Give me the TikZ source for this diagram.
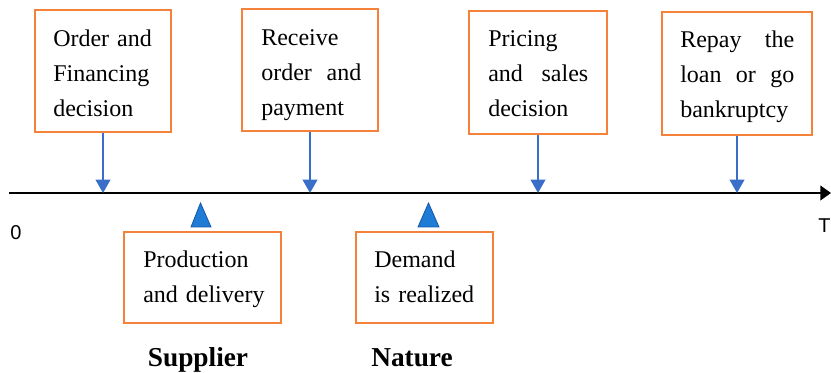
\documentclass[tikz,border=0pt]{standalone}
\usepackage{fontspec}
\setmainfont{Liberation Serif}
\newfontfamily\axisfont{Liberation Sans}
\usetikzlibrary{arrows.meta}
\definecolor{boxorange}{HTML}{F5823A}
\definecolor{arrowblue}{HTML}{3A6FC9}
\definecolor{trifill}{HTML}{1E7BD6}
\definecolor{triedge}{HTML}{1457A8}
\tikzset{
  evbox/.style={draw=boxorange, line width=1.5pt, inner sep=0pt, rectangle},
  evtext/.style={anchor=base west, inner sep=0pt, align=left, font=\fontsize{18}{26.25}\selectfont},
  downarrow/.style={draw=arrowblue, line width=1.4pt, -{Triangle[length=10pt,width=11pt]}, arrowblue},
  uptri/.style={fill=trifill, draw=triedge, line width=0.6pt, line join=miter},
  agent/.style={inner sep=0pt, anchor=base, font=\fontsize{20.5}{24}\selectfont\bfseries},
  axislabel/.style={inner sep=0pt, font=\axisfont\fontsize{15}{18}\selectfont}
}
\begin{document}
\begin{tikzpicture}[x=0.75pt,y=-0.75pt]
\useasboundingbox (0,0) rectangle (831,373);
% axis
\coordinate (axL) at (9,193);
\coordinate (axR) at (831,193);
\draw[line width=1.5pt, -{Triangle[length=8pt,width=11pt]}] (axL) -- (axR);
\node[axislabel] (zero) at (16,232.5) {0};
\node[axislabel] (tend) at (824.5,226) {T};
% top boxes
\node[evbox, minimum width=102pt, minimum height=91.5pt] (b1) at (103,71) {};
\node[evbox, minimum width=102pt, minimum height=91.5pt] (b2) at (310,70) {};
\node[evbox, minimum width=103.5pt, minimum height=92.25pt] (b3) at (538,72.5) {};
\node[evbox, minimum width=112.5pt, minimum height=92.25pt] (b4) at (737,73.5) {};
\node[evtext, text width=75pt] (t1) at (53,47) {Order and\\Financing\\decision};
\node[evtext, text width=75pt] (t2) at (261,46) {Receive\\order\hfill and\\payment};
\node[evtext, text width=75pt] (t3) at (488,47) {Pricing\\and\hfill sales\\decision};
\node[evtext, text width=85.5pt] (t4) at (680,48) {Repay\hfill the\\loan\hfill or\hfill go\\bankruptcy};
% bottom boxes
\node[evbox, minimum width=117.75pt, minimum height=68.25pt] (b5) at (202.5,277.5) {};
\node[evbox, minimum width=102.75pt, minimum height=68.25pt] (b6) at (424.5,277.5) {};
\node[evtext, text width=95pt] (t5) at (143,268) {Production\\and delivery};
\node[evtext, text width=90pt] (t6) at (374,268) {Demand\\is realized};
% down arrows
\draw[downarrow] (b1.south) -- (b1.south |- axL);
\draw[downarrow] (b2.south) -- (b2.south |- axL);
\draw[downarrow] (b3.south) -- (b3.south |- axL);
\draw[downarrow] (b4.south) -- (b4.south |- axL);
% up triangles
\draw[uptri] (191,227) -- (211,227) -- (200.5,203) -- cycle;
\draw[uptri] (418,227) -- (439,227) -- (428.5,203) -- cycle;
% agents
\node[agent] (sup) at (198,367) {Supplier};
\node[agent] (nat) at (412,367) {Nature};
\end{tikzpicture}
\end{document}
